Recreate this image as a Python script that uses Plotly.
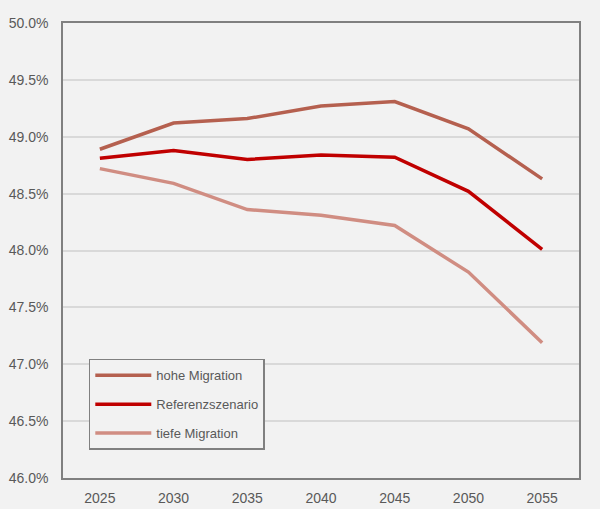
import plotly.graph_objects as go

# ── Data ─────────────────────────────────────────────────────────────────────
YEARS = ["2025", "2030", "2035", "2040", "2045", "2050", "2055"]

HOHE_MIGRATION = [48.89, 49.12, 49.16, 49.27, 49.31, 49.07, 48.63]
REFERENZ       = [48.81, 48.88, 48.80, 48.84, 48.82, 48.52, 48.01]
TIEFE_MIGRATION = [48.72, 48.59, 48.36, 48.31, 48.22, 47.81, 47.19]

SERIES_NAMES = ["hohe Migration", "Referenzszenario", "tiefe Migration"]

# ── Colors ───────────────────────────────────────────────────────────────────
HOHE_COLOR  = "#B5604F"
REF_COLOR   = "#C00000"
TIEFE_COLOR = "#D08D82"
BG_COLOR    = "#F2F2F2"
GRID_COLOR  = "#D9D9D9"
AXIS_COLOR  = "#808080"
TEXT_COLOR  = "#595959"
FONT        = "Liberation Sans, Arial, sans-serif"
FONT_SIZE   = 14

fig = go.Figure()

for i, (name, vals, color) in enumerate(zip(
        SERIES_NAMES,
        [HOHE_MIGRATION, REFERENZ, TIEFE_MIGRATION],
        [HOHE_COLOR, REF_COLOR, TIEFE_COLOR])):
    fig.add_trace(go.Scatter(
        x=YEARS, y=vals, mode="lines", name=name,
        legendgroup=f"g{i}",
        line=dict(color=color, width=3.5),
    ))

fig.update_layout(
    width=600, height=509,
    paper_bgcolor=BG_COLOR,
    plot_bgcolor=BG_COLOR,
    font=dict(family=FONT, size=FONT_SIZE, color=TEXT_COLOR),
    margin=dict(l=63, r=21, t=23, b=31, autoexpand=False),
    showlegend=True,
    legend=dict(
        x=0.05, y=0.262, xanchor="left", yanchor="top",
        bgcolor=BG_COLOR,
        bordercolor=AXIS_COLOR, borderwidth=1.5,
        font=dict(family=FONT, size=13, color=TEXT_COLOR),
        itemwidth=56,
        tracegroupgap=9,
    ),
    xaxis=dict(
        type="category",
        range=[-0.5, 6.5],
        automargin=False,
        showgrid=False,
        showline=True, linecolor=AXIS_COLOR, linewidth=1.5, mirror=True,
        ticks="", ticklabelstandoff=6,
        tickfont=dict(family=FONT, size=FONT_SIZE, color=TEXT_COLOR),
    ),
    yaxis=dict(
        range=[46, 50],
        dtick=0.5,
        automargin=False,
        tickformat=".1f", ticksuffix="%",
        showgrid=True, gridcolor=GRID_COLOR, gridwidth=1.5,
        showline=True, linecolor=AXIS_COLOR, linewidth=1.5, mirror=True,
        zeroline=False,
        ticks="", ticklabelstandoff=10,
        tickfont=dict(family=FONT, size=FONT_SIZE, color=TEXT_COLOR),
    ),
)

# drop the browser's default body margin so the figure sits at (0, 0)
fig.write_html(
    "out.html",
    config={"displayModeBar": False},
    post_script="document.body.style.margin='0';document.body.style.overflow='hidden';",
)
